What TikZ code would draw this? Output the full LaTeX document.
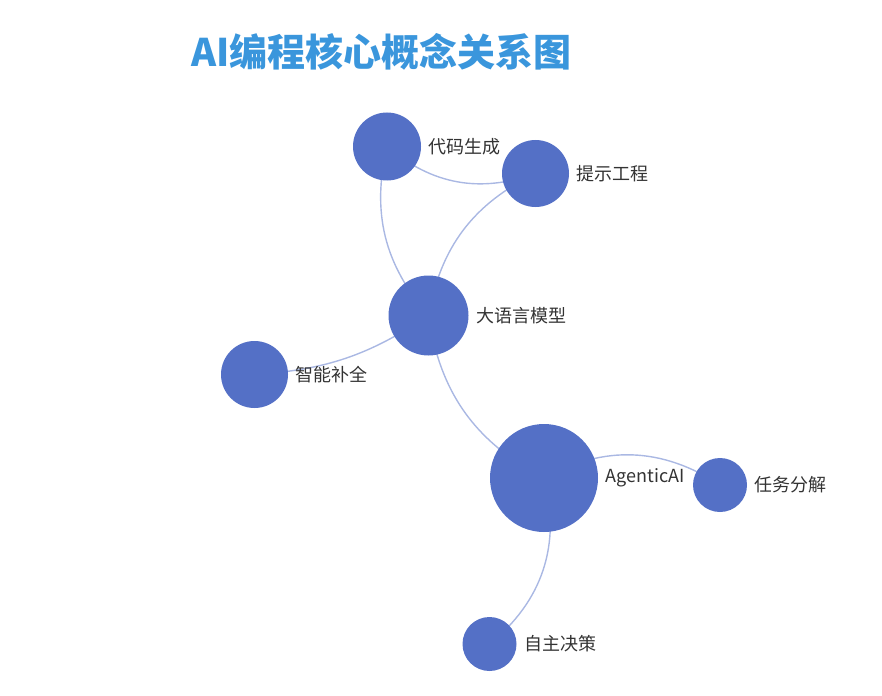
\documentclass[tikz,border=0pt]{standalone}
\usepackage{fontspec}
\setmainfont{Noto Sans CJK SC}
\usetikzlibrary{positioning,backgrounds}
\definecolor{nodeblue}{HTML}{5470C6}
\definecolor{linkblue}{HTML}{AAB8E3}
\definecolor{titleblue}{HTML}{3A96DC}
\definecolor{labelgray}{HTML}{333333}
\tikzset{
  concept/.style={circle,fill=nodeblue,inner sep=0pt},
  conceptlabel/.style={inner sep=0pt,text=labelgray,font=\fontsize{18}{18}\selectfont},
  link/.style={linkblue,line width=1.4pt},
  charttitle/.style={inner sep=0pt,text=titleblue,font=\bfseries\fontsize{38}{38}\selectfont}
}

\begin{document}
\begin{tikzpicture}[x=1pt,y=1pt]
  \useasboundingbox (0,0) rectangle (882,-695);
  \node[charttitle] (title) at (381.5,-52) {AI编程核心概念关系图};
  % concepts: name / x / y / diameter / text
  \foreach \n/\x/\y/\d/\lab in {llm/428.5/315.5/80/大语言模型, code/387/146.5/68/代码生成, prompt/535.5/173.5/67/提示工程, compl/254.5/374.5/67/智能补全, agent/544/478/108/AgenticAI, task/720/485/54/任务分解, decide/489.5/644/54/自主决策}{
    \node[concept,minimum size=\d pt] (\n) at (\x,-\y) {};
    \node[conceptlabel,right=7.5pt of \n] (\n-lab) {\lab};
  }
  % relations, centre to centre behind the circles
  \begin{scope}[on background layer]
    \foreach \a/\b/\ang in {code/prompt/-30, code/llm/-27, prompt/llm/-27, llm/compl/15, llm/agent/-27, agent/task/31, agent/decide/33}
      \draw[link] (\a.center) to[bend left=\ang] (\b.center);
  \end{scope}
\end{tikzpicture}
\end{document}
